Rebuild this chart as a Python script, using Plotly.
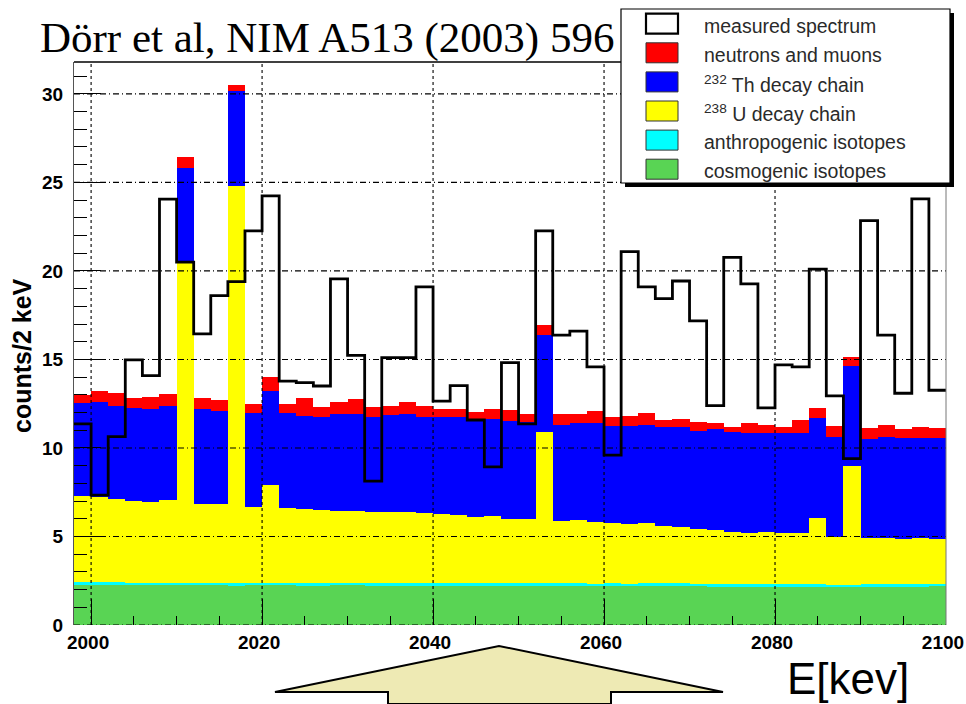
import plotly.graph_objects as go

# ---- data: 2 keV bins between 1998 and 2100 keV -------------------------
BIN_START = 1998
BIN_END = 2100
BIN_WIDTH = 2
N_BINS = 51
edges = [BIN_START + BIN_WIDTH * i for i in range(N_BINS + 1)]
centers = [e + BIN_WIDTH / 2 for e in edges[:-1]]

measured = [11.36, 7.34, 10.64, 14.97, 14.09, 24.05, 20.5, 16.44, 18.6, 19.4,
            22.26, 24.24, 13.78, 13.69, 13.5, 19.55, 15.23, 8.13, 15.1, 15.1,
            19.1, 12.65, 13.52, 11.58, 8.93, 14.82, 11.36, 22.26, 16.37, 16.6,
            14.58, 9.59, 21.09, 19.1, 18.44, 19.43, 17.18, 12.39, 20.77, 19.27,
            12.26, 14.69, 14.58, 20.1, 12.94, 9.4, 22.84, 16.37, 13.09, 24.07,
            13.26]

cosmogenic = [2.27, 2.24, 2.27, 2.24, 2.24, 2.25, 2.25, 2.24, 2.24, 2.22,
              2.24, 2.24, 2.25, 2.22, 2.22, 2.24, 2.24, 2.22, 2.22, 2.22,
              2.22, 2.22, 2.22, 2.2, 2.2, 2.2, 2.22, 2.2, 2.2, 2.2,
              2.18, 2.2, 2.18, 2.18, 2.2, 2.2, 2.18, 2.16, 2.16, 2.14,
              2.16, 2.14, 2.16, 2.14, 2.12, 2.12, 2.14, 2.12, 2.14, 2.16,
              2.18]

anthropogenic = [0.18, 0.2, 0.14, 0.14, 0.14, 0.14, 0.14, 0.14, 0.14, 0.14,
                 0.14, 0.14, 0.14, 0.14, 0.14, 0.14, 0.14, 0.14, 0.14, 0.14,
                 0.14, 0.16, 0.16, 0.16, 0.16, 0.16, 0.16, 0.18, 0.16, 0.16,
                 0.16, 0.16, 0.16, 0.18, 0.16, 0.16, 0.16, 0.18, 0.18, 0.2,
                 0.18, 0.16, 0.16, 0.16, 0.16, 0.16, 0.16, 0.18, 0.18, 0.18,
                 0.16]

u238_chain = [4.84, 4.81, 4.69, 4.62, 4.55, 4.67, 18.11, 4.44, 4.44, 22.46,
              4.27, 5.52, 4.2, 4.18, 4.14, 4.06, 4.06, 4.01, 4.01, 4.01,
              3.95, 3.87, 3.83, 3.76, 3.82, 3.61, 3.59, 8.54, 3.52, 3.55,
              3.5, 3.38, 3.37, 3.38, 3.23, 3.2, 3.1, 3.03, 2.9, 2.84,
              2.9, 2.92, 2.86, 3.73, 2.71, 6.7, 2.6, 2.6, 2.54, 2.56,
              2.52]

th232_chain = [5.23, 5.33, 5.29, 5.24, 5.27, 5.33, 5.34, 5.36, 5.29, 5.35,
               5.31, 5.34, 5.37, 5.29, 5.27, 5.48, 5.48, 5.4, 5.49, 5.55,
               5.46, 5.48, 5.52, 5.52, 5.46, 5.56, 5.48, 5.46, 5.42, 5.52,
               5.55, 5.52, 5.55, 5.56, 5.57, 5.6, 5.52, 5.68, 5.68, 5.69,
               5.59, 5.61, 5.69, 5.68, 5.65, 5.67, 5.61, 5.74, 5.72, 5.68,
               5.72]

neutrons_muons = [0.47, 0.64, 0.7, 0.6, 0.7, 0.64, 0.58, 0.66, 0.6, 0.32,
                  0.54, 0.75, 0.54, 1.01, 0.56, 0.66, 0.85, 0.53, 0.51, 0.66,
                  0.6, 0.49, 0.49, 0.39, 0.58, 0.64, 0.45, 0.59, 0.6, 0.47,
                  0.7, 0.51, 0.57, 0.7, 0.42, 0.46, 0.53, 0.38, 0.28, 0.56,
                  0.47, 0.37, 0.71, 0.53, 0.6, 0.51, 0.6, 0.66, 0.47, 0.58,
                  0.53]

legend_labels = ["measured spectrum", "neutrons and muons",
                 "<sup>232</sup> Th decay chain", "<sup>238</sup> U decay chain",
                 "anthropogenic isotopes", "cosmogenic isotopes"]

x_major_ticks = [2000, 2020, 2040, 2060, 2080, 2100]
y_major_ticks = [0, 5, 10, 15, 20, 25, 30]

# ---- style ---------------------------------------------------------------
C_NEUTRON = "#ff0000"
C_TH = "#0000ff"
C_U = "#ffff00"
C_ANTHRO = "#00ffff"
C_COSMO = "#59d454"
SANS = "Liberation Sans, Arial, sans-serif"
SERIF = "Liberation Serif, Times New Roman, serif"

W, H = 966, 704
ML, MR, MT, MB = 74, 20, 62, 79
PW, PH = W - ML - MR, H - MT - MB


def px(xp):
    """horizontal page pixel -> paper fraction"""
    return (xp - ML) / PW


def py(yp):
    """vertical page pixel (from top) -> paper fraction"""
    return (H - MB - yp) / PH


fig = go.Figure()

stack = [
    ("cosmogenic isotopes", cosmogenic, C_COSMO),
    ("anthropogenic isotopes", anthropogenic, C_ANTHRO),
    ("238U decay chain", u238_chain, C_U),
    ("232Th decay chain", th232_chain, C_TH),
    ("neutrons and muons", neutrons_muons, C_NEUTRON),
]
for name, vals, col in stack:
    fig.add_trace(go.Bar(
        x=centers, y=vals, width=BIN_WIDTH, name=name,
        marker=dict(color=col, line=dict(width=0)),
        showlegend=False,
    ))

# measured spectrum as a step histogram over the bin edges
fig.add_trace(go.Scatter(
    x=edges, y=measured + [measured[-1]], mode="lines",
    line=dict(shape="hv", color="black", width=2.8),
    name="measured spectrum", showlegend=False,
))

shapes = []
# grid drawn over the filled histograms
for xv in x_major_ticks[:-1]:
    shapes.append(dict(type="line", xref="x", yref="paper", x0=xv, x1=xv,
                       y0=0, y1=1, layer="above",
                       line=dict(color="black", width=1.1, dash="3px,3px")))
for yv in y_major_ticks:
    shapes.append(dict(type="line", xref="paper", yref="y", x0=0, x1=1,
                       y0=yv, y1=yv, layer="above",
                       line=dict(color="black", width=1.1,
                                 dash="6px,3px,1px,3px")))
# frame: top and right edges
shapes.append(dict(type="line", xref="paper", yref="paper", x0=0, x1=1,
                   y0=1, y1=1, layer="above",
                   line=dict(color="black", width=1.6)))
shapes.append(dict(type="line", xref="paper", yref="paper", x0=1, x1=1,
                   y0=0, y1=1, layer="above",
                   line=dict(color="#777777", width=1)))

# legend box with drop shadow
LX0, LX1, LY0, LY1 = 621, 950, 9, 183
shapes.append(dict(type="rect", xref="paper", yref="paper",
                   x0=px(LX0 + 4), x1=px(LX1 + 4), y0=py(LY1 + 4), y1=py(LY0 + 4),
                   layer="above", fillcolor="black", line=dict(width=0)))
shapes.append(dict(type="rect", xref="paper", yref="paper",
                   x0=px(LX0), x1=px(LX1), y0=py(LY1), y1=py(LY0),
                   layer="above", fillcolor="white",
                   line=dict(color="black", width=1.2)))

swatch_fill = ["white", C_NEUTRON, C_TH, C_U, C_ANTHRO, C_COSMO]
annotations = []
for k, (lab, fillc) in enumerate(zip(legend_labels, swatch_fill)):
    cy = 23.7 + 29.1 * k
    shapes.append(dict(type="rect", xref="paper", yref="paper",
                       x0=px(646), x1=px(678), y0=py(cy + 10), y1=py(cy - 10),
                       layer="above", fillcolor=fillc,
                       line=dict(color="black" if k == 0 else "#333333",
                                 width=2.2 if k == 0 else 1)))
    annotations.append(dict(
        xref="paper", yref="paper", x=px(702), y=py(cy + 2),
        xanchor="left", yanchor="middle", showarrow=False, text=lab,
        font=dict(family=SANS, size=19.5, color="#2a2a2a")))

# up-arrow pointing at the spectrum
arrow_pts = [(388, 704), (388, 692), (275, 692), (499, 646), (723, 692),
             (611, 692), (611, 704)]
path = "M " + " L ".join(f"{px(a):.5f},{py(b):.5f}" for a, b in arrow_pts) + " Z"
shapes.append(dict(type="path", xref="paper", yref="paper", path=path,
                   layer="above", fillcolor="#eeeab4",
                   line=dict(color="black", width=2)))

annotations += [
    dict(xref="paper", yref="paper", x=px(38), y=py(12), xanchor="left",
         yanchor="top", showarrow=False, text="Dörr et al, NIM A513 (2003) 596",
         font=dict(family=SERIF, size=43, color="black")),
    dict(xref="paper", yref="paper", x=px(785), y=py(652), xanchor="left",
         yanchor="top", showarrow=False, text="E[kev]",
         font=dict(family=SANS, size=44, color="black")),
    dict(xref="paper", yref="paper", x=px(22), y=py(356), xanchor="center",
         yanchor="middle", showarrow=False, text="counts/2 keV", textangle=-90,
         font=dict(family=SANS, size=25, color="black", weight="bold")),
]

fig.update_layout(
    width=W, height=H,
    margin=dict(l=ML, r=MR, t=MT, b=MB, pad=0, autoexpand=False),
    paper_bgcolor="white", plot_bgcolor="white",
    barmode="stack", bargap=0,
    shapes=shapes, annotations=annotations,
    showlegend=False,
)
fig.update_xaxes(
    range=[BIN_START, BIN_END], tickvals=x_major_ticks,
    ticks="inside", ticklen=26, tickwidth=1.3, tickcolor="black",
    minor=dict(dtick=5, tick0=2000, ticks="inside", ticklen=9,
               tickcolor="black", tickwidth=1.3),
    showgrid=False, zeroline=False, showline=False, automargin=False,
    tickfont=dict(family=SANS, size=19, color="black", weight="bold"),
    ticklabelstandoff=4, ticklabelshift=-3, ticklabeloverflow="allow",
)
fig.update_yaxes(
    range=[0, 31.8], tickvals=y_major_ticks,
    ticks="inside", ticklen=27, tickwidth=1.3, tickcolor="black",
    minor=dict(dtick=1, ticks="inside", ticklen=13, tickcolor="black",
               tickwidth=1.3),
    showgrid=False, zeroline=False, automargin=False,
    showline=True, linecolor="#555555", linewidth=1.2,
    tickfont=dict(family=SANS, size=19, color="black", weight="bold"),
    ticklabelstandoff=6,
)

fig.write_html("out.html")
